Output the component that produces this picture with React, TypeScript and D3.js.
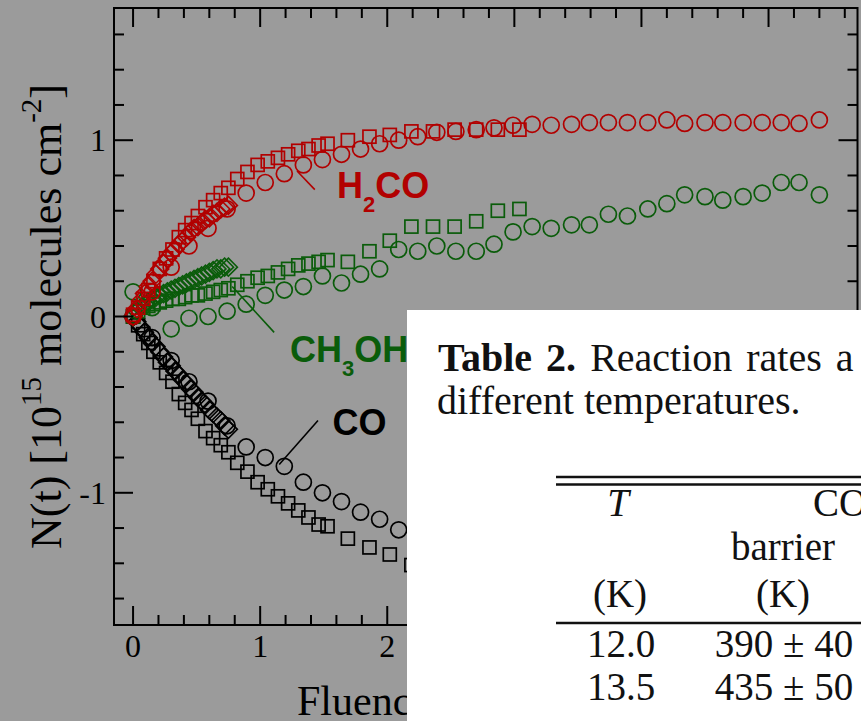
import React from 'react';
import * as d3 from 'd3';

const WIDTH = 861;
const HEIGHT = 721;

// Axis domains and ticks
const X_DOMAIN: [number, number] = [-0.15, 5.7];
const Y_DOMAIN: [number, number] = [-1.75, 1.75];
const X_MAJOR = [0, 1, 2, 3, 4, 5];
const X_LABELED = [0, 1, 2];
const Y_MAJOR = [-1, 0, 1];
const X_TICK_LABELS = ['0', '1', '2'];
const Y_TICK_LABELS = ['-1', '0', '1'];

// H2CO
const h2coSquares: [number, number][] = [
  [0.0, 0.01], [0.04, 0.05], [0.08, 0.1], [0.12, 0.15], [0.16, 0.2], [0.21, 0.27], [0.26, 0.33],
  [0.31, 0.38], [0.36, 0.45], [0.41, 0.49], [0.46, 0.53], [0.51, 0.57], [0.57, 0.62], [0.63, 0.66],
  [0.69, 0.7], [0.75, 0.73], [0.82, 0.78], [0.9, 0.82], [0.98, 0.86], [1.06, 0.88], [1.14, 0.9],
  [1.22, 0.92], [1.3, 0.94], [1.38, 0.95], [1.46, 0.97], [1.53, 0.98], [1.69, 1.0], [1.86, 1.02],
  [2.02, 1.03], [2.19, 1.05], [2.36, 1.05], [2.53, 1.06], [2.7, 1.06], [2.87, 1.06], [3.04, 1.06],
];
const h2coCircles: [number, number][] = [
  [0.0, 0.0], [0.15, 0.14], [0.3, 0.28], [0.44, 0.4], [0.59, 0.5], [0.74, 0.61], [0.89, 0.7],
  [1.04, 0.76], [1.19, 0.81], [1.34, 0.86], [1.49, 0.89], [1.64, 0.92], [1.79, 0.95], [1.94, 0.98],
  [2.09, 1.0], [2.24, 1.02], [2.39, 1.045], [2.54, 1.05], [2.7, 1.06], [2.84, 1.07], [2.99, 1.085],
  [3.14, 1.09], [3.29, 1.085], [3.45, 1.09], [3.59, 1.1], [3.74, 1.1], [3.89, 1.1], [4.05, 1.1],
  [4.2, 1.115], [4.34, 1.095], [4.5, 1.1], [4.64, 1.1], [4.8, 1.1], [4.95, 1.1], [5.1, 1.1],
  [5.24, 1.095], [5.4, 1.115],
];
const h2coDiamonds: [number, number][] = [
  [0.0, 0.0], [0.03, 0.045], [0.06, 0.09], [0.09, 0.13], [0.12, 0.17], [0.15, 0.2], [0.18, 0.24],
  [0.21, 0.27], [0.24, 0.3], [0.27, 0.33], [0.3, 0.36], [0.33, 0.38], [0.36, 0.41], [0.39, 0.43],
  [0.42, 0.45], [0.45, 0.48], [0.48, 0.5], [0.51, 0.51], [0.54, 0.53], [0.57, 0.55], [0.6, 0.56],
  [0.63, 0.58], [0.66, 0.59], [0.69, 0.61], [0.72, 0.62], [0.75, 0.63],
];

// CH3OH
const ch3ohSquares: [number, number][] = [
  [0.0, 0.0], [0.04, 0.03], [0.08, 0.05], [0.12, 0.06], [0.16, 0.07], [0.21, 0.08], [0.26, 0.09],
  [0.31, 0.1], [0.36, 0.1], [0.41, 0.11], [0.46, 0.12], [0.51, 0.12], [0.57, 0.13], [0.63, 0.14],
  [0.69, 0.15], [0.75, 0.16], [0.82, 0.18], [0.9, 0.2], [0.98, 0.22], [1.06, 0.23], [1.14, 0.25],
  [1.22, 0.27], [1.3, 0.29], [1.38, 0.3], [1.46, 0.31], [1.53, 0.32], [1.69, 0.31], [1.86, 0.37],
  [2.02, 0.43], [2.19, 0.51], [2.36, 0.51], [2.53, 0.51], [2.7, 0.54], [2.87, 0.6], [3.04, 0.61],
];
const ch3ohCircles: [number, number][] = [
  [0.0, 0.14], [0.15, 0.05], [0.3, -0.07], [0.44, -0.01], [0.59, 0.0], [0.74, 0.03], [0.89, 0.07],
  [1.04, 0.12], [1.19, 0.15], [1.34, 0.17], [1.49, 0.23], [1.64, 0.19], [1.79, 0.24], [1.94, 0.27],
  [2.09, 0.38], [2.24, 0.37], [2.39, 0.4], [2.54, 0.37], [2.7, 0.37], [2.84, 0.41], [2.99, 0.48],
  [3.14, 0.51], [3.29, 0.5], [3.45, 0.52], [3.59, 0.52], [3.74, 0.58], [3.89, 0.57], [4.05, 0.61],
  [4.2, 0.64], [4.34, 0.69], [4.5, 0.68], [4.64, 0.66], [4.8, 0.68], [4.95, 0.7], [5.1, 0.76],
  [5.24, 0.76], [5.4, 0.69],
];
const ch3ohDiamonds: [number, number][] = [
  [0.0, 0.0], [0.03, 0.03], [0.06, 0.05], [0.09, 0.07], [0.12, 0.08], [0.15, 0.1], [0.18, 0.11],
  [0.21, 0.12], [0.24, 0.13], [0.27, 0.14], [0.3, 0.15], [0.33, 0.16], [0.36, 0.17], [0.39, 0.18],
  [0.42, 0.19], [0.45, 0.2], [0.48, 0.21], [0.51, 0.22], [0.54, 0.23], [0.57, 0.24], [0.6, 0.25],
  [0.63, 0.26], [0.66, 0.27], [0.69, 0.27], [0.72, 0.28], [0.75, 0.28],
];

// CO
const coSquares: [number, number][] = [
  [0.0, 0.0], [0.04, -0.05], [0.08, -0.1], [0.12, -0.15], [0.16, -0.2], [0.21, -0.26], [0.26, -0.32],
  [0.31, -0.37], [0.36, -0.44], [0.41, -0.49], [0.46, -0.53], [0.51, -0.58], [0.57, -0.65],
  [0.63, -0.69], [0.69, -0.73], [0.75, -0.77], [0.82, -0.83], [0.9, -0.88], [0.98, -0.94],
  [1.06, -0.98], [1.14, -1.02], [1.22, -1.06], [1.3, -1.1], [1.38, -1.14], [1.46, -1.18],
  [1.53, -1.19], [1.69, -1.26], [1.86, -1.31], [2.02, -1.35], [2.19, -1.41], [2.36, -1.44],
  [2.53, -1.48], [2.7, -1.51], [2.87, -1.54], [3.04, -1.56],
];
const coCircles: [number, number][] = [
  [0.0, 0.0], [0.15, -0.12], [0.3, -0.25], [0.44, -0.37], [0.59, -0.48], [0.74, -0.62],
  [0.89, -0.74], [1.04, -0.8], [1.19, -0.85], [1.34, -0.94], [1.49, -1.0], [1.64, -1.05],
  [1.79, -1.11], [1.94, -1.15], [2.09, -1.21], [2.24, -1.25], [2.39, -1.29],
];
const coDiamonds: [number, number][] = [
  [0.0, 0.0], [0.03, -0.03], [0.06, -0.06], [0.09, -0.09], [0.12, -0.12], [0.15, -0.15],
  [0.18, -0.17], [0.21, -0.2], [0.24, -0.23], [0.27, -0.26], [0.3, -0.28], [0.33, -0.31],
  [0.36, -0.33], [0.39, -0.36], [0.42, -0.38], [0.45, -0.41], [0.48, -0.43], [0.51, -0.46],
  [0.54, -0.48], [0.57, -0.5], [0.6, -0.53], [0.63, -0.55], [0.66, -0.57], [0.69, -0.59],
  [0.72, -0.62], [0.75, -0.64],
];

const RED = '#b20000';
const GREEN = '#0a5c0a';
const BLACK = '#000000';
const BG = '#9b9b9b';

const SERIF = '"Liberation Serif", "Times New Roman", Times, serif';
const SANS = '"Liberation Sans", Arial, Helvetica, sans-serif';

type Pt = [number, number];

function Squares({ data, color, x, y }: { data: Pt[]; color: string; x: any; y: any }) {
  const s = 13;
  return (
    <g fill="none" stroke={color} strokeWidth={1.7}>
      {data.map((d, i) => (
        <rect key={i} x={x(d[0]) - s / 2} y={y(d[1]) - s / 2} width={s} height={s} />
      ))}
    </g>
  );
}

function Circles({ data, color, x, y }: { data: Pt[]; color: string; x: any; y: any }) {
  return (
    <g fill="none" stroke={color} strokeWidth={1.7}>
      {data.map((d, i) => (
        <circle key={i} cx={x(d[0])} cy={y(d[1])} r={8} />
      ))}
    </g>
  );
}

function Diamonds({ data, color, x, y }: { data: Pt[]; color: string; x: any; y: any }) {
  const h = 9;
  return (
    <g fill="none" stroke={color} strokeWidth={1.6}>
      {data.map((d, i) => {
        const cx = x(d[0]);
        const cy = y(d[1]);
        return <path key={i} d={`M${cx},${cy - h}L${cx + h},${cy}L${cx},${cy + h}L${cx - h},${cy}Z`} />;
      })}
    </g>
  );
}

export default function App() {
  const x = d3.scaleLinear().domain(X_DOMAIN).range([114, 857.5]);
  const y = d3.scaleLinear().domain(Y_DOMAIN).range([625, 8]);
  const [x0, x1] = x.range();
  const [y0, y1] = y.range();

  const xMinor = d3.range(0.2, 5.65, 0.2).filter((v) => Math.abs(v - Math.round(v)) > 1e-6);
  const yMinor = d3.range(-1.6, 1.65, 0.2).filter((v) => Math.abs(v - Math.round(v)) > 1e-6);
  const MAJ = 19;
  const MIN = 10;

  // label anchors in data units
  const h2coLine: Pt[] = [[1.29, 0.825], [1.43, 0.72]];
  const ch3ohLine: Pt[] = [[0.78, 0.17], [1.11, -0.09]];
  const coLine: Pt[] = [[1.455, -0.59], [1.15, -0.84]];

  return (
    <svg
      width={WIDTH}
      height={HEIGHT}
      style={{ position: 'absolute', left: 0, top: 0, display: 'block' }}
    >
      <rect x={0} y={0} width={WIDTH} height={HEIGHT} fill={BG} />

      {/* data */}
      <Squares data={coSquares} color={BLACK} x={x} y={y} />
      <Circles data={coCircles} color={BLACK} x={x} y={y} />
      <Diamonds data={coDiamonds} color={BLACK} x={x} y={y} />
      <Squares data={ch3ohSquares} color={GREEN} x={x} y={y} />
      <Circles data={ch3ohCircles} color={GREEN} x={x} y={y} />
      <Diamonds data={ch3ohDiamonds} color={GREEN} x={x} y={y} />
      <Squares data={h2coSquares} color={RED} x={x} y={y} />
      <Circles data={h2coCircles} color={RED} x={x} y={y} />
      <Diamonds data={h2coDiamonds} color={RED} x={x} y={y} />

      {/* leader lines */}
      <line x1={x(h2coLine[0][0])} y1={y(h2coLine[0][1])} x2={x(h2coLine[1][0])} y2={y(h2coLine[1][1])} stroke={RED} strokeWidth={1.6} />
      <line x1={x(ch3ohLine[0][0])} y1={y(ch3ohLine[0][1])} x2={x(ch3ohLine[1][0])} y2={y(ch3ohLine[1][1])} stroke={GREEN} strokeWidth={1.6} />
      <line x1={x(coLine[0][0])} y1={y(coLine[0][1])} x2={x(coLine[1][0])} y2={y(coLine[1][1])} stroke={BLACK} strokeWidth={1.6} />

      {/* species labels */}
      <text x={x(1.605)} y={y(0.67)} fill={RED} fontFamily={SANS} fontWeight="bold" fontSize={36}>
        H<tspan fontSize={22} dy={14}>2</tspan><tspan dy={-14}>CO</tspan>
      </text>
      <text x={x(1.235)} y={y(-0.26)} fill={GREEN} fontFamily={SANS} fontWeight="bold" fontSize={36}>
        CH<tspan fontSize={22} dy={14}>3</tspan><tspan dy={-14}>OH</tspan>
      </text>
      <text x={x(1.57)} y={y(-0.67)} fill={BLACK} fontFamily={SANS} fontWeight="bold" fontSize={36}>
        CO
      </text>

      {/* frame and ticks */}
      <g stroke="#000" strokeWidth={2}>
        {X_MAJOR.map((v) => (
          <g key={'xM' + v}>
            <line x1={x(v)} x2={x(v)} y1={y1} y2={y1 + MAJ} />
            <line x1={x(v)} x2={x(v)} y1={y0} y2={y0 - MAJ} />
          </g>
        ))}
        {xMinor.map((v) => (
          <g key={'xm' + v}>
            <line x1={x(v)} x2={x(v)} y1={y1} y2={y1 + MIN} />
            <line x1={x(v)} x2={x(v)} y1={y0} y2={y0 - MIN} />
          </g>
        ))}
        {Y_MAJOR.map((v) => (
          <g key={'yM' + v}>
            <line x1={x0} x2={x0 + MAJ} y1={y(v)} y2={y(v)} />
            <line x1={x1} x2={x1 - MAJ} y1={y(v)} y2={y(v)} />
          </g>
        ))}
        {yMinor.map((v) => (
          <g key={'ym' + v}>
            <line x1={x0} x2={x0 + MIN} y1={y(v)} y2={y(v)} />
            <line x1={x1} x2={x1 - MIN} y1={y(v)} y2={y(v)} />
          </g>
        ))}
        <rect x={x0} y={y1} width={x1 - x0} height={y0 - y1} fill="none" />
      </g>

      {/* tick labels */}
      <g fontFamily={SERIF} fontSize={32} fill="#000">
        {X_LABELED.map((v, i) => (
          <text key={'xl' + v} x={x(v)} y={657} textAnchor="middle">
            {X_TICK_LABELS[i]}
          </text>
        ))}
        {Y_MAJOR.map((v, i) => (
          <text key={'yl' + v} x={106} y={y(v) + 11} textAnchor="end">
            {Y_TICK_LABELS[i]}
          </text>
        ))}
      </g>

      {/* axis titles */}
      <text
        transform={`translate(61,${(y0 + y1) / 2}) rotate(-90)`}
        textAnchor="middle"
        fontFamily={SERIF}
        fontSize={44}
        fill="#000"
      >
        N(t) [10<tspan fontSize={29} dy={-20}>15</tspan>
        <tspan dy={20}>{' molecules cm'}</tspan>
        <tspan fontSize={29} dy={-20}>-2</tspan>
        <tspan dy={20}>]</tspan>
      </text>
      <text x={297} y={715} fontFamily={SERIF} fontSize={42} fill="#000">
        Fluence
      </text>

      {/* table panel */}
      <rect x={407} y={310} width={WIDTH - 407} height={HEIGHT - 310} fill="#ffffff" />
      <g fontFamily={SERIF} fill="#111">
        <text x={438} y={371} fontSize={40} wordSpacing={4}>
          <tspan fontWeight="bold">Table 2.</tspan>
          <tspan>{' Reaction rates a'}</tspan>
        </text>
        <text x={437} y={414} fontSize={40}>
          different temperatures.
        </text>
        <line x1={556} x2={WIDTH} y1={477} y2={477} stroke="#111" strokeWidth={2.6} />
        <line x1={556} x2={WIDTH} y1={484.5} y2={484.5} stroke="#111" strokeWidth={2.6} />
        <text x={618} y={516} fontSize={39} fontStyle="italic" textAnchor="middle">T</text>
        <text x={813} y={516} fontSize={39}>CO</text>
        <text x={783} y={560} fontSize={39} textAnchor="middle">barrier</text>
        <text x={620} y={607} fontSize={39} textAnchor="middle">(K)</text>
        <text x={783} y={607} fontSize={39} textAnchor="middle">(K)</text>
        <line x1={556} x2={WIDTH} y1={623} y2={623} stroke="#111" strokeWidth={2.6} />
        <text x={621} y={657} fontSize={39} textAnchor="middle">12.0</text>
        <text x={784} y={657} fontSize={39} textAnchor="middle">390 ± 40</text>
        <text x={621} y={700} fontSize={39} textAnchor="middle">13.5</text>
        <text x={784} y={700} fontSize={39} textAnchor="middle">435 ± 50</text>
      </g>
    </svg>
  );
}
